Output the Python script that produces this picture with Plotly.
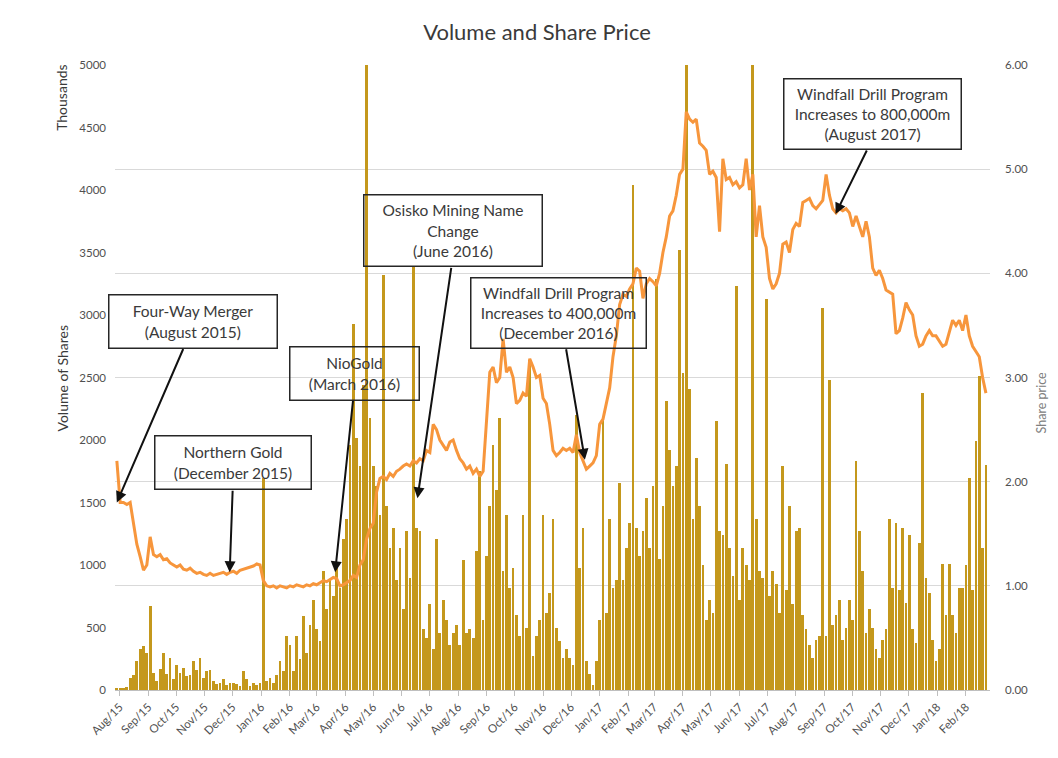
import numpy as np
import pandas as pd
import plotly.graph_objects as go

# ---------------- data ----------------
start_date = "2015-07-29"
step_days = 3.6  # sampling interval of the readings

volume_2015 = [20, 20, 20, 25, 100, 120, 230, 330, 350, 300, 670, 140, 70, 170, 300, 130, 260, 90, 200, 140,
               180, 110, 120, 230, 160, 260, 100, 150, 160, 70, 50, 60, 85, 40, 60, 60, 50, 30, 150, 90, 35, 60, 40]
volume_2016a = [60, 1700, 70, 100, 60, 120, 230, 150, 430, 360, 150, 430, 250, 590, 300, 520, 720, 490, 390, 950,
                650, 880, 750, 980, 820, 1210, 1370, 1960, 2930, 2020, 1790, 2440, 5000, 2180, 1790, 1630, 1400, 3320,
                1470, 1140, 1300, 880, 1140, 650]
volume_2016b = [1270, 900, 3390, 1300, 1270, 490, 420, 690, 330, 1210, 460, 720, 560, 360, 460, 520, 360, 1040, 460,
                490, 420, 1110, 1750, 560, 1070, 1470, 1960, 1600, 2180, 950, 1400, 820, 980, 600, 430, 1400, 500, 2640,
                270, 430, 560, 1400, 620, 780]
volume_2017a = [1370, 500, 390, 260, 330, 260, 200, 2200, 980, 1300, 230, 130, 40, 230, 560, 2180, 620, 1370, 820, 880,
                1660, 880, 1140, 1340, 4040, 1300, 1070, 1270, 1540, 1140, 1630, 3290, 1050, 1470, 2310, 1920, 1630,
                1790, 3520, 2540, 5000, 2410, 1370, 1860]
volume_2017b = [1470, 1000, 560, 720, 620, 2150, 1270, 1240, 1810, 1140, 910, 3230, 720, 1140, 1000, 880, 5000, 1370,
                950, 900, 3130, 750, 950, 850, 620, 1790, 800, 1470, 690, 1270, 1300, 600, 490, 360, 260, 400, 430,
                3060, 430, 2480, 520, 600, 720, 400]
volume_2018 = [500, 720, 560, 1830, 1270, 950, 460, 650, 500, 330, 260, 400, 490, 1370, 820, 1340, 800, 1300, 700, 1240,
               490, 380, 1180, 2380, 900, 780, 400, 230, 330, 1010, 600, 1010, 600, 460, 820, 820, 1000, 1700, 800,
               1990, 2510, 1140, 1800]

price_2015 = [2.20, 1.80, 1.80, 1.78, 1.80, 1.60, 1.40, 1.28, 1.15, 1.20, 1.47, 1.30, 1.28, 1.30, 1.25, 1.26, 1.22,
              1.20, 1.18, 1.20, 1.16, 1.15, 1.17, 1.14, 1.12, 1.13, 1.11, 1.10, 1.12, 1.10, 1.11, 1.12, 1.13, 1.11,
              1.13, 1.14, 1.12, 1.15, 1.16, 1.17, 1.18, 1.19, 1.21]
price_2016a = [1.20, 1.05, 1.00, 0.99, 1.00, 0.98, 1.00, 0.99, 0.98, 1.00, 0.99, 1.01, 1.00, 0.99, 1.01, 1.00, 1.02,
               1.01, 1.03, 1.05, 1.04, 1.06, 1.08, 1.07, 1.00, 1.01, 1.03, 1.05, 1.10, 1.08, 1.20, 1.25, 1.45, 1.55,
               1.60, 1.90, 2.03, 2.05, 2.02, 2.08, 2.05, 2.10, 2.12, 2.15]
price_2016b = [2.17, 2.15, 2.20, 2.18, 2.22, 2.20, 2.30, 2.28, 2.55, 2.50, 2.40, 2.35, 2.30, 2.38, 2.40, 2.30, 2.22,
               2.18, 2.12, 2.15, 2.08, 2.12, 2.05, 2.10, 2.55, 3.05, 3.10, 2.95, 3.00, 3.37, 3.05, 3.10, 3.00, 2.75,
               2.78, 2.85, 2.82, 3.18, 3.10, 3.00, 3.02, 2.80, 2.75, 2.55]
price_2017a = [2.30, 2.25, 2.28, 2.32, 2.30, 2.32, 2.28, 2.45, 2.28, 2.20, 2.12, 2.15, 2.18, 2.25, 2.55, 2.60, 2.75,
               2.90, 3.20, 3.40, 3.70, 3.80, 3.78, 3.85, 3.90, 4.05, 4.02, 3.76, 3.90, 3.95, 3.92, 3.88, 4.00, 4.20,
               4.35, 4.55, 4.60, 4.75, 4.95, 5.00, 5.55, 5.48, 5.45, 5.48]
price_2017b = [5.25, 5.22, 5.18, 4.95, 4.98, 4.92, 4.40, 5.10, 4.90, 4.92, 4.85, 4.88, 4.82, 4.85, 5.10, 4.80, 4.95,
               4.35, 4.65, 4.35, 4.25, 3.95, 3.85, 3.90, 4.00, 4.28, 4.30, 4.20, 4.42, 4.48, 4.45, 4.68, 4.70, 4.72,
               4.65, 4.62, 4.66, 4.70, 4.95, 4.75, 4.62, 4.58, 4.62, 4.60]
price_2018 = [4.62, 4.58, 4.45, 4.55, 4.45, 4.35, 4.50, 4.35, 4.05, 3.98, 4.03, 3.95, 3.84, 3.82, 3.80, 3.42, 3.45,
              3.57, 3.72, 3.65, 3.60, 3.40, 3.30, 3.32, 3.40, 3.45, 3.40, 3.40, 3.35, 3.30, 3.32, 3.45, 3.55, 3.50,
              3.55, 3.45, 3.60, 3.40, 3.30, 3.25, 3.20, 3.00, 2.85]

volume = volume_2015 + volume_2016a + volume_2016b + volume_2017a + volume_2017b + volume_2018
price = price_2015 + price_2016a + price_2016b + price_2017a + price_2017b + price_2018

# events: (label, date, price at the arrow tip)
event_labels = ["Four-Way Merger<br>(August 2015)",
                "Northern Gold<br>(December 2015)",
                "NioGold<br>(March 2016)",
                "Osisko Mining Name<br>Change<br>(June 2016)",
                "Windfall Drill Program<br>Increases to 400,000m<br>(December 2016)",
                "Windfall Drill Program<br>Increases to 800,000m<br>(August 2017)"]
event_dates = ["2015-07-29", "2015-11-28", "2016-03-21", "2016-06-18", "2016-12-16", "2017-09-13"]
event_prices = [1.80, 1.13, 1.13, 1.84, 2.21, 4.57]

dates = pd.Timestamp(start_date) + pd.to_timedelta(np.arange(len(volume)) * step_days, unit="D")

# ---------------- figure ----------------
FONT = "Lato"
BAR = "#C4981C"
LINE = "#F7963C"
TXT = "#3A3A3A"
OFF = 8  # page body margin

fig = go.Figure()
fig.add_trace(go.Bar(x=dates, y=volume, marker=dict(color=BAR, line=dict(width=0)),
                     width=step_days * 0.82 * 86400000, name="Volume", yaxis="y"))
fig.add_trace(go.Scatter(x=dates, y=price, mode="lines", line=dict(color=LINE, width=3),
                         name="Share price", yaxis="y2"))

# plot area in screen pixels
L, R, T, B = 115, 990, 65, 693
W, H = R - L, B - T
FIG_W, FIG_H = 1058 - 2 * OFF, 758 - 2 * OFF


def px(x):
    return (x - L) / W


def py(y):
    return (B - y) / H


annotations = []
# boxes: center x, center y, width, height (screen pixels)
boxes = [(193, 322.5, 170, 55), (233, 464.5, 158, 55), (354.5, 374.5, 131, 55),
         (453, 231.5, 180, 73), (558.5, 314, 177, 72), (872.5, 114, 179, 72)]
tails = [(67, -155), (3, -83), (18, -173), (34, -232), (-19, -112), (32, -65)]
for lab, (cx, cy, bw, bh) in zip(event_labels, boxes):
    annotations.append(dict(x=px(cx), y=py(cy), xref="paper", yref="paper", xanchor="center", yanchor="middle",
                            text=lab, showarrow=False,
                            width=bw - 3, height=bh - 3, borderpad=0, bordercolor="#262626", borderwidth=1.5,
                            bgcolor="rgba(0,0,0,0)", align="center", valign="middle",
                            font=dict(family=FONT, size=15.5, color=TXT)))
for d, p, (ax, ay) in zip(event_dates, event_prices, tails):
    annotations.append(dict(x=d, y=p, xref="x", yref="y2", text="", showarrow=True, ax=ax, ay=ay,
                            arrowhead=2, arrowsize=1.1, arrowwidth=2, arrowcolor="#111111"))

annotations += [
    dict(x=px(62), y=py(380), xref="paper", yref="paper", xanchor="center", yanchor="middle",
         text="Volume of Shares", textangle=-90, showarrow=False,
         font=dict(family=FONT, size=14, color=TXT)),
    dict(x=px(62), y=py(98), xref="paper", yref="paper", xanchor="center", yanchor="middle",
         text="Thousands", textangle=-90, showarrow=False,
         font=dict(family=FONT, size=14, color=TXT)),
    dict(x=px(1041), y=py(405), xref="paper", yref="paper", xanchor="center", yanchor="middle",
         text="Share price", textangle=-90, showarrow=False,
         font=dict(family=FONT, size=12.5, color="#808080")),
]

fig.update_layout(
    width=FIG_W, height=FIG_H,
    margin=dict(l=L - OFF, r=FIG_W + OFF - R, t=T - OFF, b=FIG_H + OFF - B),
    paper_bgcolor="white", plot_bgcolor="white",
    showlegend=False, bargap=0,
    title=dict(text="Volume and Share Price", x=(537 - OFF) / FIG_W, xanchor="center", xref="container",
               y=1 - (32 - OFF) / FIG_H, yanchor="middle",
               font=dict(family=FONT, size=22, color=TXT)),
    xaxis=dict(type="date", range=["2015-07-27", "2018-02-27"], tick0="2015-08-01", dtick="M1",
               tickformat="%b/%y", tickangle=-45, showgrid=False, showline=True, linecolor="#BFBFBF",
               ticks="outside", ticklen=5, tickcolor="#BFBFBF",
               tickfont=dict(family=FONT, size=11.5, color="#505050")),
    yaxis=dict(range=[0, 5000], dtick=500, showgrid=False, zeroline=False, showline=False,
               tickfont=dict(family=FONT, size=11.5, color="#505050"), ticks="", ticklabelstandoff=8),
    yaxis2=dict(range=[0, 6], dtick=1, tickformat=".2f", overlaying="y", side="right", showgrid=True,
                gridcolor="#D9D9D9", gridwidth=1, zeroline=False, showline=False,
                tickfont=dict(family=FONT, size=11.5, color="#505050"), ticks="", ticklabelstandoff=14),
    annotations=annotations,
)

fig.write_html("out.html")
